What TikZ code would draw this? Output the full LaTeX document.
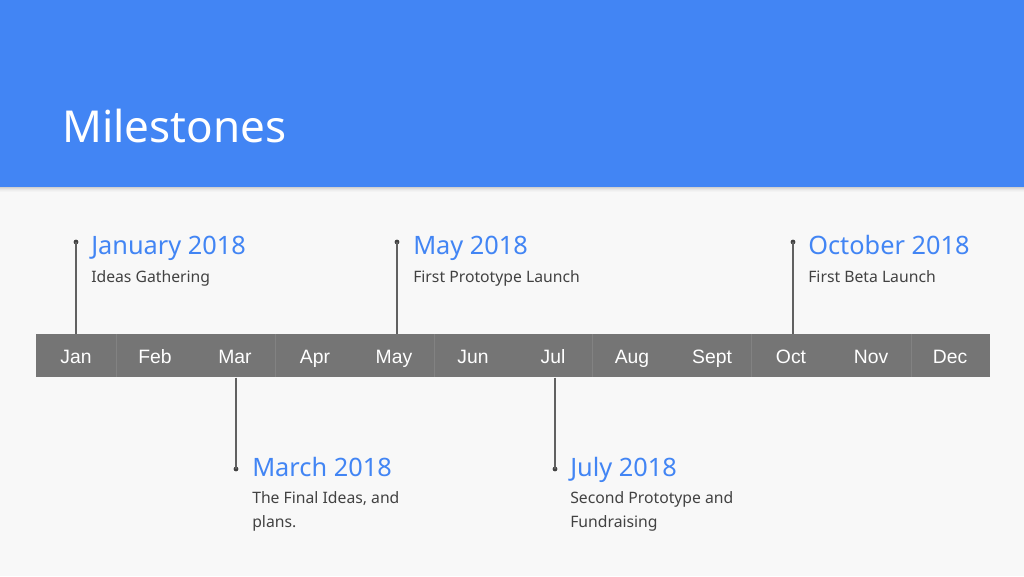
\documentclass[tikz,border=0pt]{standalone}
\usepackage{fontspec}
\setmainfont{Noto Sans}
\newfontfamily\monthfont{Liberation Sans}
\definecolor{hdrblue}{HTML}{4285F4}
\definecolor{pagebg}{HTML}{F8F8F8}
\definecolor{barcol}{HTML}{757575}
\definecolor{sepcol}{HTML}{828282}
\definecolor{txtgray}{HTML}{424242}
\definecolor{linegray}{HTML}{616161}
\begin{document}
\begin{tikzpicture}[x=0.75pt,y=-0.75pt,
  monthlbl/.style={text=white,font=\monthfont\fontsize{14.5}{17}\selectfont,anchor=base,inner sep=0pt},
  mhead/.style={text=hdrblue,font=\fontsize{19}{23}\selectfont,anchor=base west,inner sep=0pt},
  msub/.style={text=txtgray,font=\fontsize{11.8}{18}\selectfont,anchor=base west,inner sep=0pt,align=left},
  dotmark/.style={circle,fill=txtgray,minimum size=3.6pt,inner sep=0pt},
  stem/.style={draw=linegray,line width=1.2pt}]
\useasboundingbox (0,0) rectangle (1024,576);
\fill[pagebg] (0,0) rectangle (1024,576);
% header shadow
\foreach \i/\o in {0/0.16,1/0.11,2/0.07,3/0.04,4/0.02}{
  \fill[black,opacity=\o] (0,187+\i) rectangle (1024,188+\i);
}
\fill[hdrblue] (0,0) rectangle (1024,187);
\node[anchor=base west,inner sep=0pt,text=white,font=\fontsize{33}{40}\selectfont] (title) at (62,142) {Milestones};
% bar
\node[fill=barcol,minimum width=954*0.75pt,minimum height=43*0.75pt,inner sep=0pt,anchor=north west] (bar) at (36,334) {};
\foreach \s in {116,275,434,592,751,911}{
  \draw[sepcol,line width=0.6pt] (\s,334) -- (\s,377);
}
\foreach \n/\lbl/\cx in {1/Jan/76,2/Feb/155,3/Mar/235,4/Apr/315,5/May/394,6/Jun/473,7/Jul/553,8/Aug/632,9/Sept/712,10/Oct/791,11/Nov/871,12/Dec/950}{
  \node[monthlbl] (m\n) at (\cx,363) {\lbl};
}
% milestones above
\node[dotmark] (d1) at (76,242) {};
\draw[stem] (d1.center) -- (d1 |- bar.north);
\node[mhead] (h1) at (91,254) {January 2018};
\node[msub] (s1) at (91,282) {Ideas Gathering};

\node[dotmark] (d5) at (397,242) {};
\draw[stem] (d5.center) -- (d5 |- bar.north);
\node[mhead] (h5) at (413,254) {May 2018};
\node[msub] (s5) at (413,282) {First Prototype Launch};

\node[dotmark] (d10) at (793,242) {};
\draw[stem] (d10.center) -- (d10 |- bar.north);
\node[mhead] (h10) at (808,254) {October 2018};
\node[msub] (s10) at (808,282) {First Beta Launch};
% milestones below
\node[dotmark] (d3) at (236,469) {};
\draw[stem] (d3 |- bar.south) -- (d3.center);
\node[mhead] (h3) at (252,476) {March 2018};
\node[msub] (s3) at (252,527) {The Final Ideas, and\\plans.};

\node[dotmark] (d7) at (555,469) {};
\draw[stem] (d7 |- bar.south) -- (d7.center);
\node[mhead] (h7) at (570,476) {July 2018};
\node[msub] (s7) at (570,527) {Second Prototype and\\Fundraising};
\end{tikzpicture}
\end{document}
